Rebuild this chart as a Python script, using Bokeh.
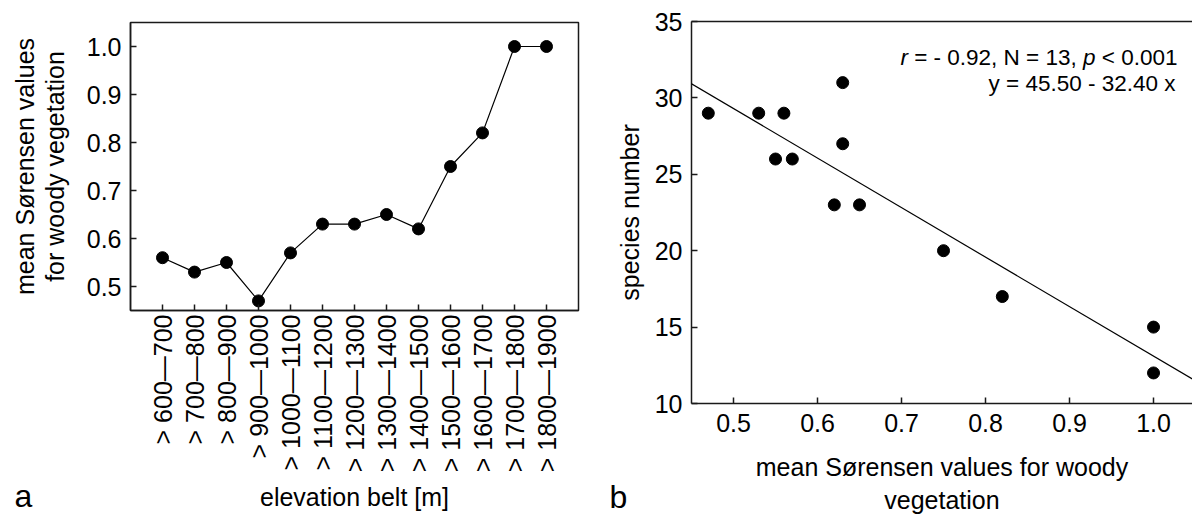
import math
from bokeh.plotting import figure
from bokeh.models import (FactorRange, Range1d, FixedTicker, PrintfTickFormatter,
                          Slope, LinearAxis, ColumnDataSource)
from bokeh.core.properties import value
from bokeh.embed import file_html
from bokeh.resources import INLINE

# ---------------- data ----------------
belts = ["> 600—700", "> 700—800", "> 800—900", "> 900—1000", "> 1000—1100",
         "> 1100—1200", "> 1200—1300", "> 1300—1400", "> 1400—1500",
         "> 1500—1600", "> 1600—1700", "> 1700—1800", "> 1800—1900"]
sorensen = [0.56, 0.53, 0.55, 0.47, 0.57, 0.63, 0.63, 0.65, 0.62, 0.75, 0.82, 1.00, 1.00]
species = [29, 29, 26, 29, 26, 31, 27, 23, 23, 20, 17, 15, 12]
left_yticks = [0.5, 0.6, 0.7, 0.8, 0.9, 1.0]
right_xticks = [0.5, 0.6, 0.7, 0.8, 0.9, 1.0]
right_yticks = [10, 15, 20, 25, 30, 35]
intercept = 45.50
slope = -32.40
stats_parts = ["r", "= - 0.92, N = 13,", "p", "< 0.001"]
stats_styles = ["italic", "normal", "italic", "normal"]
panel_letters = ["a", "b"]

FONT = "Liberation Sans"
AX = "#1a1a1a"


def style_axis(ax, standoff, label_standoff, lh=1.1):
    ax.axis_line_color = AX
    ax.axis_line_width = 1.5
    ax.major_tick_line_color = AX
    ax.major_tick_line_width = 1.5
    ax.major_tick_in = 6
    ax.major_tick_out = 0
    ax.minor_tick_line_color = None
    ax.major_label_text_font = FONT
    ax.major_label_text_font_size = "25px"
    ax.major_label_text_color = "black"
    ax.major_label_standoff = standoff
    ax.axis_label_text_font = FONT
    ax.axis_label_text_font_size = "25px"
    ax.axis_label_text_font_style = "normal"
    ax.axis_label_text_color = "black"
    ax.axis_label_standoff = label_standoff
    ax.axis_label_text_line_height = lh


# ---------------- panel a ----------------
src_a = ColumnDataSource(dict(belt=belts, s=sorensen))
p1 = figure(width=600, height=521, output_backend="svg", toolbar_location=None,
            x_range=FactorRange(factors=belts, range_padding=0.5,
                                range_padding_units="absolute"),
            y_range=Range1d(0.45, 1.05),
            min_border_left=130, min_border_right=22,
            min_border_top=22, min_border_bottom=211)
p1.grid.visible = False
p1.outline_line_color = AX
p1.outline_line_width = 1.5
p1.background_fill_color = "white"
p1.border_fill_color = "white"
p1.line("belt", "s", source=src_a, line_color="black", line_width=1.2)
p1.scatter("belt", "s", source=src_a, size=12, color="black")

style_axis(p1.xaxis[0], 4, 8)
style_axis(p1.yaxis[0], 9, 15, lh=1.05)
p1.xaxis[0].major_label_orientation = math.pi / 2
p1.xaxis[0].axis_label = "elevation belt [m]"
p1.yaxis[0].axis_label = "mean Sørensen values\nfor woody vegetation"
p1.yaxis[0].ticker = FixedTicker(ticks=left_yticks)
p1.yaxis[0].formatter = PrintfTickFormatter(format="%.1f")

# ---------------- panel b ----------------
src_b = ColumnDataSource(dict(s=sorensen, n=species))
xr2 = Range1d(0.45, 1.0464)
yr2 = Range1d(10, 35)
p2 = figure(width=592, height=521, output_backend="svg", toolbar_location=None,
            x_range=xr2, y_range=yr2,
            min_border_left=91, min_border_right=0,
            min_border_top=21, min_border_bottom=118)
p2.grid.visible = False
p2.outline_line_color = None
p2.background_fill_color = "white"
p2.border_fill_color = "white"
p2.add_layout(Slope(gradient=slope, y_intercept=intercept, line_color="black",
                    line_width=1.2))
p2.scatter("s", "n", source=src_b, size=12, color="black")

style_axis(p2.xaxis[0], 10, 18, lh=1.2)
style_axis(p2.yaxis[0], 9, 8)
p2.xaxis[0].ticker = FixedTicker(ticks=right_xticks)
p2.xaxis[0].formatter = PrintfTickFormatter(format="%.1f")
p2.yaxis[0].ticker = FixedTicker(ticks=right_yticks)
p2.xaxis[0].axis_label = "mean Sørensen values for woody\nvegetation"
p2.yaxis[0].axis_label = "species number"

top = LinearAxis(ticker=FixedTicker(ticks=[]), major_tick_line_color=None,
                 minor_tick_line_color=None, axis_line_color=AX,
                 axis_line_width=1.5)
p2.add_layout(top, "above")

fs = 22.5
offsets = [-11.981, -4.476, -3.642, 0.0]   # right-aligned offsets in em
src_t = ColumnDataSource(dict(
    x=[xr2.end] * 4, y=[yr2.end] * 4, t=stats_parts, st=stats_styles,
    xo=[o * fs - 15 for o in offsets], yo=[36] * 4))
p2.text("x", "y", text="t", source=src_t, x_offset="xo", y_offset="yo",
        text_font=value(FONT), text_font_size=value(f"{fs}px"),
        text_font_style="st", text_color="black", text_align="right",
        text_baseline="alphabetic")
p2.text(x=[xr2.end], y=[yr2.end], text=[f"y = {intercept:.2f} - {abs(slope):.2f} x"],
        x_offset=-17, y_offset=62, text_font=value(FONT),
        text_font_size=value(f"{fs}px"), text_color="black", text_align="right",
        text_baseline="alphabetic")


# ---------------- panel letters (small overlay figures) ----------------
def letter_fig(letter):
    f = figure(width=40, height=50, output_backend="svg", toolbar_location=None,
               x_range=Range1d(0, 1), y_range=Range1d(0, 1), min_border=0,
               background_fill_alpha=0, border_fill_alpha=0)
    f.outline_line_color = None
    f.axis.visible = False
    f.grid.visible = False
    f.text(x=[f.x_range.start], y=[f.y_range.start], text=[letter],
           text_font=value(FONT), text_font_size=value("32px"),
           text_color="black", text_align="left", text_baseline="bottom")
    return f


fa = letter_fig(panel_letters[0])
fb = letter_fig(panel_letters[1])

css = """<style>
html, body { margin:0 !important; padding:0 !important; }
body { display:flex !important; flex-direction:row; align-items:flex-start; position:relative; }
body > div:nth-of-type(3), body > div:nth-of-type(3) > div { position:absolute; left:14px; top:463px; }
body > div:nth-of-type(4), body > div:nth-of-type(4) > div { position:absolute; left:609px; top:464px; }
</style>
"""
html = file_html([p1, p2, fa, fb], INLINE)
html = html.replace("</head>", css + "</head>", 1)
open("out.html", "w").write(html)
